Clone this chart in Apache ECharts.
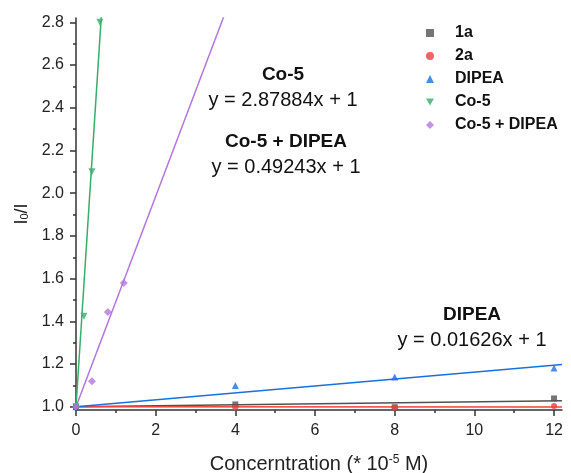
<!DOCTYPE html>
<html>
<head>
<meta charset="utf-8">
<script src="https://cdn.jsdelivr.net/npm/echarts@6/dist/echarts.min.js"></script>
<style>
html,body{margin:0;padding:0;background:#fff;}
#chart{width:571px;height:473px;}
</style>
</head>
<body>
<div id="chart"></div>
<script>
// ---- data ----
const seriesNames = ['1a', '2a', 'DIPEA', 'Co-5', 'Co-5 + DIPEA'];
const x1a = [0, 4, 8, 12];
const y1a = [1.0, 1.011, 0.998, 1.039];
const x2a = [0, 4, 8, 12];
const y2a = [1.0, 0.997, 0.996, 1.004];
const xDIPEA = [0, 4, 8, 12];
const yDIPEA = [1.0, 1.10, 1.14, 1.182];
const xCo5 = [0, 0.2, 0.4, 0.6];
const yCo5 = [1.0, 1.424, 2.10, 2.80];
const xCo5DIPEA = [0, 0.4, 0.8, 1.2];
const yCo5DIPEA = [1.0, 1.12, 1.444, 1.58];
const fitSlopes = [0.0023, -0.0001, 0.01626, 2.87884, 0.49243];
const fitIntercept = 1;
const xTicks = [0, 2, 4, 6, 8, 10, 12];
const xMinorTicks = [1, 3, 5, 7, 9, 11];
const yTicks = [1.0, 1.2, 1.4, 1.6, 1.8, 2.0, 2.2, 2.4, 2.6, 2.8];
const yMinorTicks = [1.1, 1.3, 1.5, 1.7, 1.9, 2.1, 2.3, 2.5, 2.7];
const annotations = [
  ['Co-5', 'y = 2.87884x + 1'],
  ['Co-5 + DIPEA', 'y = 0.49243x + 1'],
  ['DIPEA', 'y = 0.01626x + 1']
];

// ---- styling ----
const colors = ['#515151', '#F14040', '#1A6FDF', '#37AD6B', '#B177DE'];
const symbols = ['rect', 'circle', 'triangle', 'path://M0,0L10,0L5,9Z', 'diamond'];
const symbolSizes = [6, 6, 7, 7, 8];
const X_MIN = 0, X_MAX = 12.2, Y_MIN = 0.985, Y_MAX = 2.82;
const FONT = 'Liberation Sans, Arial, sans-serif';
const axisColor = '#333';

const xs = [x1a, x2a, xDIPEA, xCo5, xCo5DIPEA];
const ys = [y1a, y2a, yDIPEA, yCo5, yCo5DIPEA];

const series = [];
seriesNames.forEach((n, i) => {
  series.push({
    name: n + ' fit',
    type: 'line',
    xAxisIndex: 0, yAxisIndex: 0,
    data: [[X_MIN, fitIntercept + fitSlopes[i] * X_MIN], [X_MAX, fitIntercept + fitSlopes[i] * X_MAX]],
    showSymbol: false,
    symbol: 'none',
    clip: true,
    lineStyle: { color: colors[i], width: 1.5 },
    silent: true,
    z: 2
  });
});
seriesNames.forEach((n, i) => {
  series.push({
    name: n,
    type: 'scatter',
    xAxisIndex: 0, yAxisIndex: 0,
    data: xs[i].map((x, k) => [x, ys[i][k]]),
    symbol: symbols[i],
    symbolSize: symbolSizes[i],
    itemStyle: { color: colors[i] },
    clip: false,
    z: 3
  });
});

const graphics = [];
const annPos = [[283, 75, 100], [286, 142, 167], [472, 315, 340]];
annotations.forEach((a, i) => {
  graphics.push({
    type: 'text', x: annPos[i][0], y: annPos[i][1],
    style: { text: a[0], font: 'bold 19px ' + FONT, fill: '#111', align: 'center', verticalAlign: 'middle' }
  });
  graphics.push({
    type: 'text', x: annPos[i][0], y: annPos[i][2],
    style: { text: a[1], font: '20px ' + FONT, fill: '#111', align: 'center', verticalAlign: 'middle' }
  });
});

const option = {
  animation: false,
  backgroundColor: '#fff',
  textStyle: { fontFamily: FONT },
  grid: { left: 76, right: 9, top: 18, bottom: 63, containLabel: false, outerBoundsMode: 'none' },
  legend: {
    data: seriesNames,
    orient: 'vertical',
    left: 421, top: 20,
    itemWidth: 8, itemHeight: 8, itemGap: 7,
    textStyle: { fontFamily: FONT, fontSize: 16, fontWeight: 'bold', color: '#111', lineHeight: 16,
      padding: [0, 0, 0, 16] }
  },
  xAxis: [{
    type: 'value', min: X_MIN, max: X_MAX,
    splitLine: { show: false },
    axisLine: { onZero: false, lineStyle: { color: axisColor, width: 1.5 } },
    axisTick: { show: true, inside: false, length: 6, customValues: xTicks, lineStyle: { color: axisColor, width: 1.5 } },
    axisLabel: { inside: false, customValues: xTicks, margin: 13, fontSize: 16, color: '#222', fontFamily: FONT },
    name: 'Concerntration (* 10{sup|-5} M)',
    nameLocation: 'middle', nameGap: 44,
    nameTextStyle: { fontSize: 20, color: '#222', fontFamily: FONT,
      rich: { sup: { fontSize: 12, verticalAlign: 'top', padding: [0, 0, 9, 0], color: '#222', fontFamily: FONT } } }
  }, {
    type: 'value', min: X_MIN, max: X_MAX, position: 'bottom',
    splitLine: { show: false },
    axisLine: { show: false, onZero: false },
    axisTick: { show: true, inside: false, length: 3, customValues: xMinorTicks, lineStyle: { color: axisColor, width: 1.5 } },
    axisLabel: { show: false }
  }],
  yAxis: [{
    type: 'value', min: Y_MIN, max: Y_MAX,
    splitLine: { show: false },
    axisLine: { show: true, onZero: false, lineStyle: { color: axisColor, width: 1.5 } },
    axisTick: { show: true, inside: false, length: 6, customValues: yTicks, lineStyle: { color: axisColor, width: 1.5 } },
    axisLabel: { inside: false, customValues: yTicks, margin: 12, fontSize: 16, color: '#222', fontFamily: FONT,
      formatter: v => v.toFixed(1) },
    name: 'I{sub|0}/I',
    nameLocation: 'middle', nameGap: 45,
    nameTextStyle: { fontSize: 18, color: '#222', fontFamily: FONT,
      rich: { sub: { fontSize: 11, verticalAlign: 'bottom', padding: [6, 0, 0, 0], color: '#222', fontFamily: FONT } } }
  }, {
    type: 'value', min: Y_MIN, max: Y_MAX, position: 'left',
    splitLine: { show: false },
    axisLine: { show: false, onZero: false },
    axisTick: { show: true, inside: false, length: 3, customValues: yMinorTicks, lineStyle: { color: axisColor, width: 1.5 } },
    axisLabel: { show: false }
  }],
  series: series,
  graphic: graphics
};

const chart = echarts.init(document.getElementById('chart'), null, { renderer: 'canvas' });
chart.setOption(option);
</script>
</body>
</html>
